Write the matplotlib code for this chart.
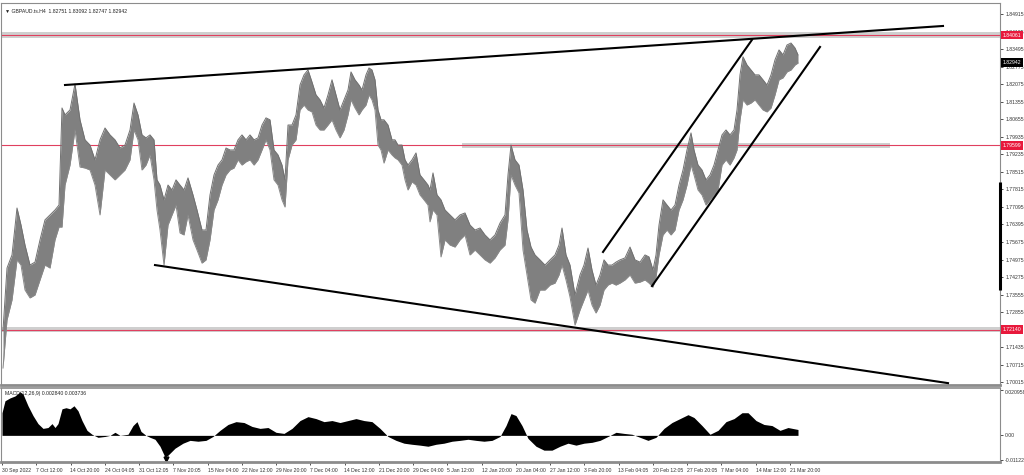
import matplotlib
matplotlib.use("Agg")
import matplotlib.pyplot as plt
import matplotlib.transforms as mtransforms

plt.rcParams["font.family"] = ["Liberation Sans", "DejaVu Sans"]

bars = [1, 5, 10, 15, 19, 23, 28, 33, 38, 43, 48, 53, 57, 60, 63, 68, 73, 78, 83, 88,
        93, 98, 103, 108, 113, 118, 123, 128, 132, 136, 140, 144, 148, 152, 155, 158, 162, 166, 170, 174,
        178, 182, 186, 191, 195, 200, 204, 208, 212, 216, 220, 224, 228, 232, 236, 240, 244, 248, 252, 256,
        260, 264, 268, 272, 276, 280, 283, 286, 290, 294, 298, 302, 306, 310, 314, 318, 322, 326, 330, 334,
        338, 342, 346, 349, 353, 357, 360, 364, 367, 370, 373, 376, 379, 382, 386, 390, 393, 396, 400, 403,
        406, 410, 414, 418, 422, 426, 428, 431, 435, 439, 443, 448, 453, 458, 463, 468, 473, 478, 483, 488,
        493, 498, 503, 506, 509, 513, 517, 521, 525, 529, 533, 538, 543, 548, 553, 557, 560, 564, 568, 573,
        578, 582, 586, 590, 594, 598, 602, 606, 610, 614, 618, 623, 628, 633, 638, 643, 647, 651, 654, 657,
        661, 665, 669, 673, 677, 681, 685, 689, 692, 696, 700, 704, 708, 712, 716, 720, 724, 728, 732, 735,
        738, 741, 745, 749, 753, 757, 761, 765, 769, 773, 777, 781, 785, 789, 793, 796]
highs = [1.7212, 1.7463, 1.7516, 1.7706, 1.7637, 1.7556, 1.7475, 1.7487, 1.7577, 1.7658,
         1.7678, 1.7698, 1.7718, 1.8111, 1.8083, 1.8103, 1.8208, 1.8063, 1.7982, 1.7961,
         1.7901, 1.7982, 1.8030, 1.8002, 1.7982, 1.7949, 1.7961, 1.8022, 1.8131, 1.8083,
         1.8002, 1.7990, 1.8002, 1.7982, 1.7820, 1.7799, 1.7739, 1.7799, 1.7779, 1.7820,
         1.7799, 1.7779, 1.7828, 1.7759, 1.7698, 1.7617, 1.7617, 1.7759, 1.7840, 1.7880,
         1.7901, 1.7949, 1.7941, 1.7941, 1.7982, 1.8002, 1.7982, 1.8002, 1.7982, 1.7990,
         1.8042, 1.8071, 1.8063, 1.7941, 1.7921, 1.7880, 1.7820, 1.8042, 1.8042, 1.8083,
         1.8204, 1.8245, 1.8265, 1.8216, 1.8164, 1.8144, 1.8111, 1.8164, 1.8225, 1.8164,
         1.8103, 1.8144, 1.8184, 1.8257, 1.8225, 1.8204, 1.8184, 1.8245, 1.8273, 1.8265,
         1.8225, 1.8103, 1.8063, 1.8063, 1.8042, 1.7982, 1.7982, 1.7961, 1.7961, 1.7901,
         1.7880, 1.7901, 1.7929, 1.7840, 1.7820, 1.7799, 1.7779, 1.7848, 1.7759, 1.7739,
         1.7698, 1.7678, 1.7658, 1.7678, 1.7686, 1.7637, 1.7617, 1.7625, 1.7597, 1.7577,
         1.7597, 1.7645, 1.7678, 1.7840, 1.7961, 1.7901, 1.7880, 1.7779, 1.7617, 1.7548,
         1.7516, 1.7496, 1.7475, 1.7496, 1.7516, 1.7556, 1.7625, 1.7516, 1.7475, 1.7354,
         1.7435, 1.7475, 1.7544, 1.7455, 1.7394, 1.7435, 1.7496, 1.7475, 1.7475, 1.7487,
         1.7496, 1.7504, 1.7548, 1.7496, 1.7487, 1.7516, 1.7508, 1.7455, 1.7516, 1.7637,
         1.7739, 1.7718, 1.7698, 1.7718, 1.7799, 1.7860, 1.7941, 1.8010, 1.7941, 1.7880,
         1.7860, 1.7820, 1.7840, 1.7880, 1.7941, 1.8002, 1.8022, 1.8002, 1.8022, 1.8103,
         1.8245, 1.8318, 1.8285, 1.8265, 1.8245, 1.8245, 1.8225, 1.8204, 1.8245, 1.8306,
         1.8346, 1.8326, 1.8366, 1.8374, 1.8354, 1.8326]
lows = [1.7058, 1.7253, 1.7334, 1.7496, 1.7475, 1.7374, 1.7342, 1.7354, 1.7415, 1.7475,
        1.7463, 1.7577, 1.7629, 1.7629, 1.7799, 1.7880, 1.8022, 1.7872, 1.7868, 1.7860,
        1.7799, 1.7678, 1.7860, 1.7840, 1.7820, 1.7840, 1.7860, 1.7901, 1.8022, 1.7982,
        1.7860, 1.7880, 1.7921, 1.7820, 1.7698, 1.7617, 1.7475, 1.7637, 1.7678, 1.7718,
        1.7605, 1.7597, 1.7678, 1.7577, 1.7536, 1.7483, 1.7496, 1.7577, 1.7698, 1.7739,
        1.7799, 1.7840, 1.7860, 1.7868, 1.7901, 1.7880, 1.7893, 1.7901, 1.7880, 1.7901,
        1.7941, 1.7982, 1.7941, 1.7820, 1.7799, 1.7739, 1.7710, 1.7901, 1.7961, 1.7982,
        1.8103, 1.8123, 1.8103, 1.8095, 1.8042, 1.8022, 1.8022, 1.8042, 1.8063, 1.8022,
        1.7990, 1.8022, 1.8083, 1.8144, 1.8111, 1.8083, 1.8103, 1.8123, 1.8164, 1.8144,
        1.8103, 1.7961, 1.7941, 1.7888, 1.7941, 1.7921, 1.7909, 1.7901, 1.7880, 1.7820,
        1.7779, 1.7812, 1.7799, 1.7759, 1.7739, 1.7718, 1.7650, 1.7698, 1.7678, 1.7508,
        1.7577, 1.7556, 1.7548, 1.7577, 1.7597, 1.7516, 1.7536, 1.7516, 1.7496, 1.7483,
        1.7504, 1.7536, 1.7556, 1.7658, 1.7840, 1.7799, 1.7767, 1.7536, 1.7435, 1.7334,
        1.7321, 1.7374, 1.7374, 1.7394, 1.7402, 1.7435, 1.7475, 1.7415, 1.7346, 1.7232,
        1.7293, 1.7334, 1.7374, 1.7313, 1.7281, 1.7313, 1.7374, 1.7394, 1.7402, 1.7394,
        1.7402, 1.7415, 1.7435, 1.7402, 1.7406, 1.7415, 1.7402, 1.7386, 1.7427, 1.7516,
        1.7597, 1.7617, 1.7597, 1.7617, 1.7698, 1.7739, 1.7799, 1.7880, 1.7840, 1.7779,
        1.7759, 1.7718, 1.7739, 1.7759, 1.7779, 1.7880, 1.7901, 1.7880, 1.7909, 1.7941,
        1.8063, 1.8144, 1.8123, 1.8131, 1.8144, 1.8123, 1.8103, 1.8095, 1.8111, 1.8164,
        1.8225, 1.8233, 1.8257, 1.8265, 1.8285, 1.8293]

# MACD(12,26,9) histogram samples
macd_bars = [0, 3, 8, 13, 18, 21, 26, 31, 36, 41, 46, 50, 53, 56, 60, 64, 68, 72, 76, 80,
             85, 90, 96, 103, 108, 113, 118, 126, 131, 135, 139, 144, 148, 153, 158, 163, 166, 173, 181, 188,
             196, 204, 211, 218, 226, 234, 242, 250, 258, 266, 274, 282, 290, 298, 306, 314, 322, 330, 338, 346,
             354, 362, 370, 378, 386, 394, 402, 410, 418, 426, 434, 442, 450, 458, 466, 474, 482, 490, 498, 504,
             509, 514, 520, 526, 534, 542, 550, 558, 566, 574, 582, 590, 598, 606, 614, 622, 630, 638, 646, 654,
             662, 670, 678, 686, 692, 700, 708, 716, 724, 732, 740, 746, 754, 762, 770, 778, 786, 796]
macd_vals = [0.0104, 0.0159, 0.0172, 0.0181, 0.0200, 0.0190, 0.0136, 0.0091, 0.0054, 0.0032,
             0.0036, 0.0054, 0.0036, 0.0054, 0.0122, 0.0127, 0.0122, 0.0136, 0.0113, 0.0068,
             0.0023, 0.0005, -0.0009, -0.0005, 0.0000, 0.0014, 0.0000, 0.0005, 0.0045, 0.0063,
             0.0018, 0.0000, -0.0009, -0.0018, -0.0050, -0.0100, -0.0091, -0.0059, -0.0036, -0.0023,
             -0.0027, -0.0023, -0.0005, 0.0023, 0.0050, 0.0063, 0.0059, 0.0041, 0.0032, 0.0036,
             0.0014, 0.0009, 0.0032, 0.0068, 0.0086, 0.0077, 0.0063, 0.0068, 0.0059, 0.0068,
             0.0077, 0.0068, 0.0063, 0.0032, -0.0005, -0.0023, -0.0036, -0.0041, -0.0045, -0.0050,
             -0.0041, -0.0036, -0.0027, -0.0023, -0.0018, -0.0023, -0.0027, -0.0023, -0.0005, 0.0045,
             0.0100, 0.0091, 0.0045, -0.0014, -0.0050, -0.0068, -0.0068, -0.0050, -0.0036, -0.0045,
             -0.0036, -0.0032, -0.0023, -0.0005, 0.0014, 0.0009, 0.0005, -0.0009, -0.0023, -0.0009,
             0.0032, 0.0059, 0.0077, 0.0095, 0.0082, 0.0045, 0.0005, 0.0023, 0.0063, 0.0077,
             0.0104, 0.0104, 0.0068, 0.0050, 0.0045, 0.0023, 0.0036, 0.0027]

# hand drawn objects
trend_lines = [((63, 1.8204), (941, 1.8443)),
               ((153, 1.7475), (946, 1.6997)),
               ((601, 1.7528), (750, 1.8387)),
               ((650, 1.7390), (818, 1.8358))]
levels = [1.84061, 1.79599, 1.72140]
level_band_from = [0, 460, 0]
level_band_to = [998, 888, 998]
last_price = 1.82942

price_ticks = [1.84915, 1.84195, 1.83495, 1.82775, 1.82075, 1.81355, 1.80655, 1.79935,
               1.79235, 1.78515, 1.77815, 1.77095, 1.76395, 1.75675, 1.74975, 1.74275,
               1.73555, 1.72855, 1.71435, 1.70715, 1.70015]
time_labels = ["30 Sep 2022", "7 Oct 12:00", "14 Oct 20:00", "24 Oct 04:05", "31 Oct 12:05",
               "7 Nov 20:05", "15 Nov 04:00", "22 Nov 12:00", "29 Nov 20:00", "7 Dec 04:00",
               "14 Dec 12:00", "21 Dec 20:00", "29 Dec 04:00", "5 Jan 12:00", "12 Jan 20:00",
               "20 Jan 04:00", "27 Jan 12:00", "3 Feb 20:00", "13 Feb 04:05", "20 Feb 12:05",
               "27 Feb 20:05", "7 Mar 04:00", "14 Mar 12:00", "21 Mar 20:00"]
BARS_PER_LABEL = 34.25

BAR_COLOR = "#808080"
LEVEL_RED = "#e0405f"
BORDER = "#8c8c8c"
FS = 3.7

fig = plt.figure(figsize=(10.24, 4.75), dpi=100)
ax = fig.add_axes([1 / 1024, 90 / 475, 999 / 1024, 382 / 475])
mx = fig.add_axes([1 / 1024, 13 / 475, 999 / 1024, 74 / 475], sharex=ax)

# price
ax.fill_between(bars, lows, highs, color=BAR_COLOR, lw=0, zorder=3)
ax.plot(bars, highs, color="#707070", lw=0.7, zorder=3)
ax.plot(bars, lows, color="#888888", lw=0.7, zorder=3)

for lvl, x0, x1 in zip(levels, level_band_from, level_band_to):
    ax.fill_between([x0, x1], lvl - 0.0011, lvl + 0.0011, color="#cfcfcf", lw=0, zorder=1)
    ax.axhline(lvl, color=LEVEL_RED, lw=0.8, zorder=2)

for (x0, y0), (x1, y1) in trend_lines:
    ax.plot([x0, x1], [y0, y1], color="black", lw=1.5, zorder=4)

ax.set_xlim(-1, 998)
ax.set_ylim(1.69894, 1.8536)
ax.yaxis.tick_right()
ax.set_yticks(price_ticks)
ax.set_yticklabels([f"{t:.5f}" for t in price_ticks])
ax.tick_params(axis="y", length=2.5, width=0.6, pad=1.5, labelsize=FS, colors="#333333")
ax.tick_params(axis="x", bottom=False, labelbottom=False)

trans = mtransforms.blended_transform_factory(ax.transAxes, ax.transData)
for lvl in levels:
    ax.text(1.0025, lvl, f"{lvl:.5f}", transform=trans, fontsize=FS, color="white",
            va="center", ha="left", clip_on=False, zorder=10,
            bbox=dict(boxstyle="square,pad=0.35", fc="#e8193c", ec="none"))
ax.text(1.0025, last_price, f"{last_price:.5f}", transform=trans, fontsize=FS, color="white",
        va="center", ha="left", clip_on=False, zorder=10,
        bbox=dict(boxstyle="square,pad=0.35", fc="black", ec="none"))
ax.plot([1.0, 1.0], [1.7812, 1.7374], transform=trans, color="black", lw=2.2, clip_on=False,
        solid_capstyle="butt", zorder=6)

ax.text(0.004, 0.985, "\u25bc GBPAUD.ts.H4  1.82751 1.83092 1.82747 1.82942", transform=ax.transAxes,
        fontsize=FS, va="top", ha="left", color="#222222")

# MACD histogram
mx.fill_between(macd_bars, 0, macd_vals, color="black", lw=0)
mx.set_ylim(-0.01224, 0.02176)
mx.yaxis.tick_right()
mx.set_yticks([0.020958, 0.0, -0.01122])
mx.set_yticklabels(["0.020958", "0.00", "-0.01122"])
mx.tick_params(axis="y", length=2.5, width=0.6, pad=1.0, labelsize=FS, colors="#333333")
mx.get_yticklabels()[0].set_va("top")
mx.text(0.004, 0.96, "MACD(12,26,9) 0.002840 0.003736", transform=mx.transAxes,
        fontsize=FS, va="top", ha="left", color="#222222")
mx.plot([164], [-0.0108], marker="v", color="black", ms=3.5, clip_on=False)

xt = [i * BARS_PER_LABEL for i in range(len(time_labels))]
mx.set_xticks(xt)
mx.set_xticklabels(time_labels, ha="left")
mx.tick_params(axis="x", length=2.5, width=0.6, pad=1.5, labelsize=FS, colors="#333333")

for a in (ax, mx):
    for s in a.spines.values():
        s.set_color(BORDER)
        s.set_linewidth(0.8)
ax.spines["bottom"].set_linewidth(2.0)
mx.spines["top"].set_linewidth(1.2)
mx.spines["bottom"].set_linewidth(2.0)

fig.savefig("out.png", dpi=100, facecolor="white")
